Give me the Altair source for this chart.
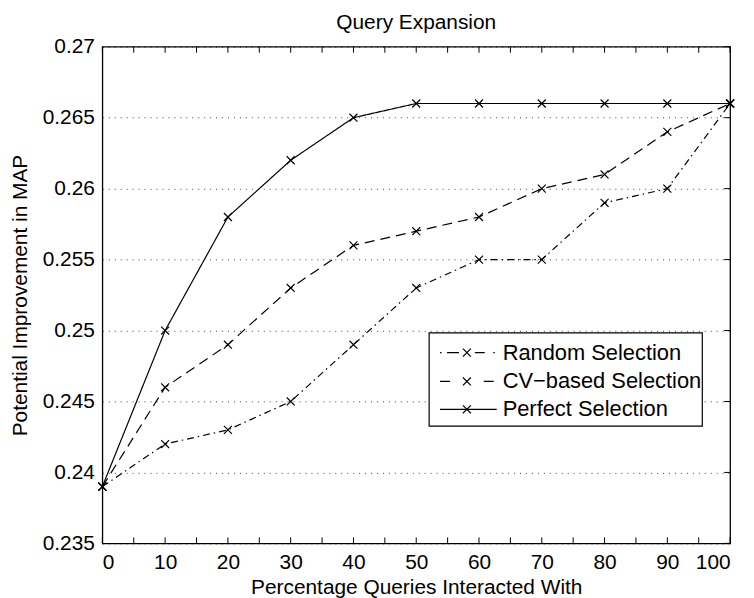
import altair as alt
import pandas as pd

# ---- data ----
x_vals = [0, 10, 20, 30, 40, 50, 60, 70, 80, 90, 100]
random_sel = [0.239, 0.242, 0.243, 0.245, 0.249, 0.253, 0.255, 0.255, 0.259, 0.260, 0.266]
cv_sel = [0.239, 0.246, 0.249, 0.253, 0.256, 0.257, 0.258, 0.260, 0.261, 0.264, 0.266]
perfect_sel = [0.239, 0.250, 0.258, 0.262, 0.265, 0.266, 0.266, 0.266, 0.266, 0.266, 0.266]
series_names = ["Random Selection", "CV\u2212based Selection", "Perfect Selection"]
chart_title = ["Query Expansion"]

x_tick_vals = list(range(0, 101, 5))
x_label_vals = list(range(0, 101, 10))
y_tick_vals = [0.235, 0.24, 0.245, 0.25, 0.255, 0.26, 0.265, 0.27]

FONT = "Liberation Sans"
FS = 21
W, H = 632, 500
dashes = [[7, 4, 1.5, 4], [10, 6], [1, 0]]
legend_dashes = [[1.5, 5.5, 12, 16, 10, 8.5, 1.5, 20], [10, 34, 10, 20], [1, 0]]

rows = []
for name, vals in zip(series_names, [random_sel, cv_sel, perfect_sel]):
    for xv, yv in zip(x_vals, vals):
        rows.append({"series": name, "x": xv, "y": yv})
df = pd.DataFrame(rows)

xscale = alt.Scale(domain=[0, 100], nice=False, zero=False)
yscale = alt.Scale(domain=[0.235, 0.27], nice=False, zero=False)

X = alt.X("x:Q", scale=xscale,
          axis=alt.Axis(values=x_label_vals, title="Percentage Queries Interacted With",
                        grid=False, labelPadding=8, titleY=50, titleBaseline="alphabetic"))
Y = alt.Y("y:Q", scale=yscale,
          axis=alt.Axis(values=y_tick_vals, format="~g", title="Potential Improvement in MAP",
                        grid=True, gridDash=[1, 5], gridColor="black", gridOpacity=0.75,
                        gridWidth=1, labelPadding=8, titleX=-82, titleY=H / 2,
                        titleAngle=270, titleBaseline="middle", titleAlign="center"))

lines = alt.Chart(df).mark_line(color="black", strokeWidth=1.2).encode(
    x=X, y=Y,
    strokeDash=alt.StrokeDash("series:N", scale=alt.Scale(domain=series_names, range=dashes), legend=None),
)
XMARK = "M-1,-1L1,1M-1,1L1,-1"
points = alt.Chart(df).mark_point(shape=XMARK, filled=False, size=64, color="black",
                                  strokeWidth=1.2, opacity=1).encode(
    x=alt.X("x:Q", scale=xscale), y=alt.Y("y:Q", scale=yscale), detail="series:N")

# inward ticks (MATLAB style)
xt = pd.DataFrame({"x": x_tick_vals})
yt = pd.DataFrame({"y": y_tick_vals})
tick_bottom = alt.Chart(xt).mark_rule(color="black", strokeWidth=1).encode(
    x=alt.X("x:Q", scale=xscale), y=alt.value(H), y2=alt.value(H - 6))
tick_top = alt.Chart(xt).mark_rule(color="black", strokeWidth=1).encode(
    x=alt.X("x:Q", scale=xscale), y=alt.value(0), y2=alt.value(6))
tick_right = alt.Chart(yt).mark_rule(color="black", strokeWidth=1).encode(
    y=alt.Y("y:Q", scale=yscale), x=alt.value(W), x2=alt.value(W - 6))

# chart title as text
title_layer = alt.Chart(pd.DataFrame({"t": chart_title})).mark_text(
    align="center", baseline="alphabetic", font=FONT, fontSize=FS, color="black").encode(
    x=alt.value(W / 2), y=alt.value(-18), text="t:N")

# legend box (MATLAB style)
one = pd.DataFrame({"a": [0]})
leg_box = alt.Chart(one).mark_rect(fill="white", stroke="black", strokeWidth=1.2).encode(
    x=alt.value(329), x2=alt.value(604), y=alt.value(288), y2=alt.value(382))
leg_layers = [leg_box]
leg_y = [308, 337, 365]
for i, name in enumerate(series_names):
    leg_layers.append(alt.Chart(one).mark_rule(color="black", strokeWidth=1.2,
                                               strokeDash=legend_dashes[i]).encode(
        x=alt.value(340), x2=alt.value(397), y=alt.value(leg_y[i])))
    leg_layers.append(alt.Chart(one).mark_point(shape=XMARK, filled=False, size=64, color="black",
                                                strokeWidth=1.2, opacity=1).encode(
        x=alt.value(367), y=alt.value(leg_y[i])))
    leg_layers.append(alt.Chart(pd.DataFrame({"t": [name]})).mark_text(
        align="left", baseline="middle", font=FONT, fontSize=22, color="black").encode(
        x=alt.value(403), y=alt.value(leg_y[i]), text="t:N"))

chart = alt.layer(lines, points, tick_bottom, tick_top, tick_right, title_layer, *leg_layers).properties(
    width=W, height=H,
    autosize=alt.AutoSizeParams(type="none"),
    padding={"left": 95, "top": 37, "right": 16, "bottom": 53},
).configure_view(stroke="black", strokeWidth=1.3).configure_axis(
    labelFont=FONT, titleFont=FONT, labelFontSize=FS, titleFontSize=FS, titleFontWeight="normal",
    labelColor="black", titleColor="black", domain=False, ticks=False,
)

chart.save("out.html", embed_options={"renderer": "svg", "actions": False})
